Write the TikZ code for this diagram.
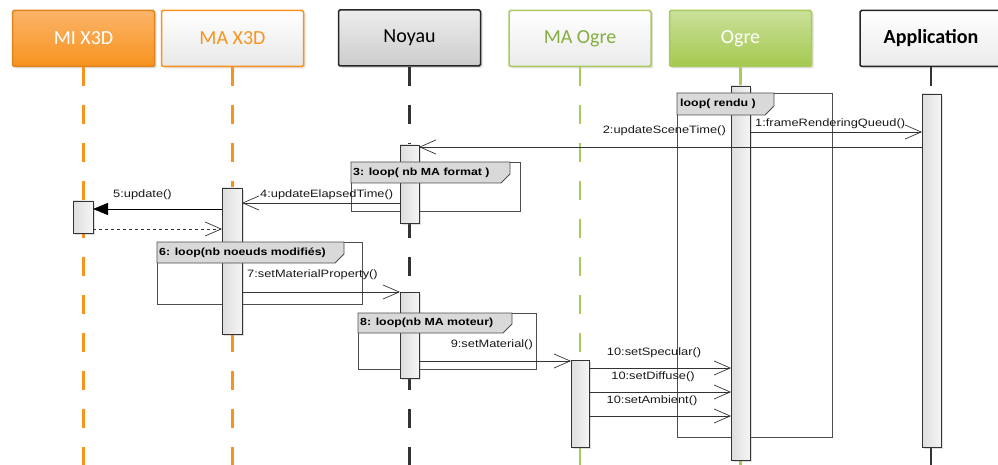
\documentclass[tikz,border=0pt]{standalone}
\usepackage{fontspec}
\usetikzlibrary{arrows.meta,shadows}
\newfontfamily\msgfont[FakeStretch=1.2]{Liberation Sans}
\newfontfamily\hfont{Carlito}
\definecolor{orng}{HTML}{F7931E}
\definecolor{orngL}{HTML}{FBB469}
\definecolor{grn}{HTML}{A8CB5B}
\definecolor{grnT}{HTML}{86AE42}
\definecolor{grnF}{HTML}{A5C94F}
\definecolor{grnFL}{HTML}{C9E09A}
\definecolor{frm}{HTML}{4D4D4D}
\definecolor{tabf}{HTML}{D9D9D9}
\definecolor{msgc}{HTML}{333333}
\begin{document}
\begin{tikzpicture}[x=1pt,y=-1pt,
  head/.style={draw, line width=1.5pt, minimum width=142pt, minimum height=56pt,
    rounded corners=1.5pt, inner sep=0pt, font=\hfont\fontsize{20}{23}\selectfont,
    drop shadow={shadow xshift=2pt, shadow yshift=-2pt, opacity=0.25}},
  life/.style={line width=2.1pt, dash pattern=on 19pt off 19pt},
  act/.style={draw=msgc, line width=0.8pt, minimum width=19pt, inner sep=0pt, outer sep=0pt,
    left color=black!13, right color=black!4,
    drop shadow={shadow xshift=2pt, shadow yshift=-2pt, opacity=0.25}},
  frame/.style={draw=frm, line width=0.8pt},
  tabshape/.style={draw=frm, fill=tabf, line width=0.8pt},
  flbl/.style={font=\msgfont\bfseries\fontsize{10.3}{12}\selectfont, inner sep=0pt, anchor=west},
  mlbl/.style={font=\msgfont\fontsize{10.7}{12}\selectfont, inner sep=0pt, text=black!90},
  msg/.style={draw=msgc, line width=0.8pt, -{Straight Barb[length=16pt,width=14pt,line width=0.7pt]}},
  sync/.style={draw=black, line width=0.9pt, -{Triangle[length=15pt,width=12pt]}},
  ret/.style={draw=msgc, line width=0.8pt, dashed, -{Straight Barb[length=16pt,width=14pt,line width=0.7pt]}},
]
\useasboundingbox (0,0) rectangle (998,465);

% heads
\node[head, draw=orng!90!black, top color=orngL, bottom color=orng, text=white] (hMI) at (83.5,38.5) {MI X3D};
\node[head, draw=orng, top color=white, bottom color=black!9, text=orng] (hMA) at (232.5,38.5) {MA X3D};
\node[head, draw=black!85, top color=black!7, bottom color=black!20, text=black] (hNo) at (409.5,38) {Noyau};
\node[head, draw=grn, top color=white, bottom color=black!8, text=grnT] (hMAO) at (580,38.5) {MA Ogre};
\node[head, draw=grn, top color=grnFL, bottom color=grnF, text=white] (hOg) at (740.5,38.5) {Ogre};
\node[head, draw=black!85, top color=white, bottom color=black!8, text=black, font=\hfont\bfseries\fontsize{20}{23}\selectfont] (hApp) at (931,38.5) {Application};

% lifelines
\coordinate (bot) at (0,465);
\draw[life, orng] (hMI.south) -- (hMI.south |- bot);
\draw[life, orng] (hMA.south) -- (hMA.south |- bot);
\draw[life, black!80] (hNo.south) -- (hNo.south |- bot);
\draw[life, grn] (hMAO.south) -- (hMAO.south |- bot);
\draw[life, grn, dash pattern=] (hOg.south) -- (hOg.south |- bot);
\draw[life, black!80] (hApp.south) -- (hApp.south |- bot);

% frames
\draw[frame] (677,93) rectangle (832,437);
\draw[frame] (351,162) rectangle (520,211);
\draw[frame] (157,242) rectangle (362,304);
\draw[frame] (358,313) rectangle (536,369);

% activations
\node[act, minimum height=374pt] (aOg) at (740.5,273) {};
\node[act, minimum height=353pt] (aApp) at (931.5,270.5) {};
\node[act, minimum height=78pt] (aNo1) at (409.5,184) {};
\node[act, minimum height=86pt] (aNo2) at (409.5,335) {};
\node[act, minimum height=146pt, minimum width=20pt] (aMA) at (232,261) {};
\node[act, minimum height=32pt, minimum width=20pt] (aMI) at (83,217) {};
\node[act, minimum height=87pt, minimum width=18pt] (aMAO) at (580,403.5) {};

% tabs
\path[tabshape] (677,93) -- (774,93) -- (774,106) -- (765,115) -- (677,115) -- cycle;
\path[tabshape] (351,162) -- (510,162) -- (510,174) -- (501,183) -- (351,183) -- cycle;
\path[tabshape] (157,242) -- (344,242) -- (344,254) -- (335,263) -- (157,263) -- cycle;
\path[tabshape] (358,313) -- (512,313) -- (512,324) -- (503,333) -- (358,333) -- cycle;
\node[flbl] (f1) at (680,103.5) {loop( rendu )};
\node[flbl] (f3) at (353,172.5) {3: loop( nb MA format )};
\node[flbl] (f6) at (159,252.5) {6: loop(nb noeuds modifiés)};
\node[flbl] (f8) at (360,323) {8: loop(nb MA moteur)};

% messages
\draw[msg] (aOg.east |- 0,132) -- (aApp.west |- 0,132);
\node[mlbl, anchor=west] (m1) at (755,123.5) {1:frameRenderingQueud()};
\draw[msg] (aApp.west |- 0,147) -- (aNo1.east |- 0,147);
\node[mlbl, anchor=east] (m2) at (726,131) {2:updateSceneTime()};
\draw[msg] (aNo1.west |- 0,203) -- (aMA.east |- 0,203);
\node[mlbl, anchor=west] (m4) at (260,194.5) {4:updateElapsedTime()};
\draw[sync] (aMA.west |- 0,209) -- (aMI.east |- 0,209);
\node[mlbl, anchor=west] (m5) at (113,194.5) {5:update()};
\draw[ret] (aMI.east |- 0,229) -- (aMA.west |- 0,229);
\draw[msg] (aMA.east |- 0,292) -- (aNo2.west |- 0,292);
\node[mlbl, anchor=west] (m7) at (247,275) {7:setMaterialProperty()};
\draw[msg] (aNo2.east |- 0,361) -- (aMAO.west |- 0,361);
\node[mlbl, anchor=east] (m9) at (533,344.5) {9:setMaterial()};
\draw[msg] (aMAO.east |- 0,368) -- (aOg.west |- 0,368);
\node[mlbl] (m10a) at (654,353) {10:setSpecular()};
\draw[msg] (aMAO.east |- 0,392) -- (aOg.west |- 0,392);
\node[mlbl] (m10b) at (653,377) {10:setDiffuse()};
\draw[msg] (aMAO.east |- 0,416) -- (aOg.west |- 0,416);
\node[mlbl] (m10c) at (652,401) {10:setAmbient()};
\end{tikzpicture}
\end{document}
